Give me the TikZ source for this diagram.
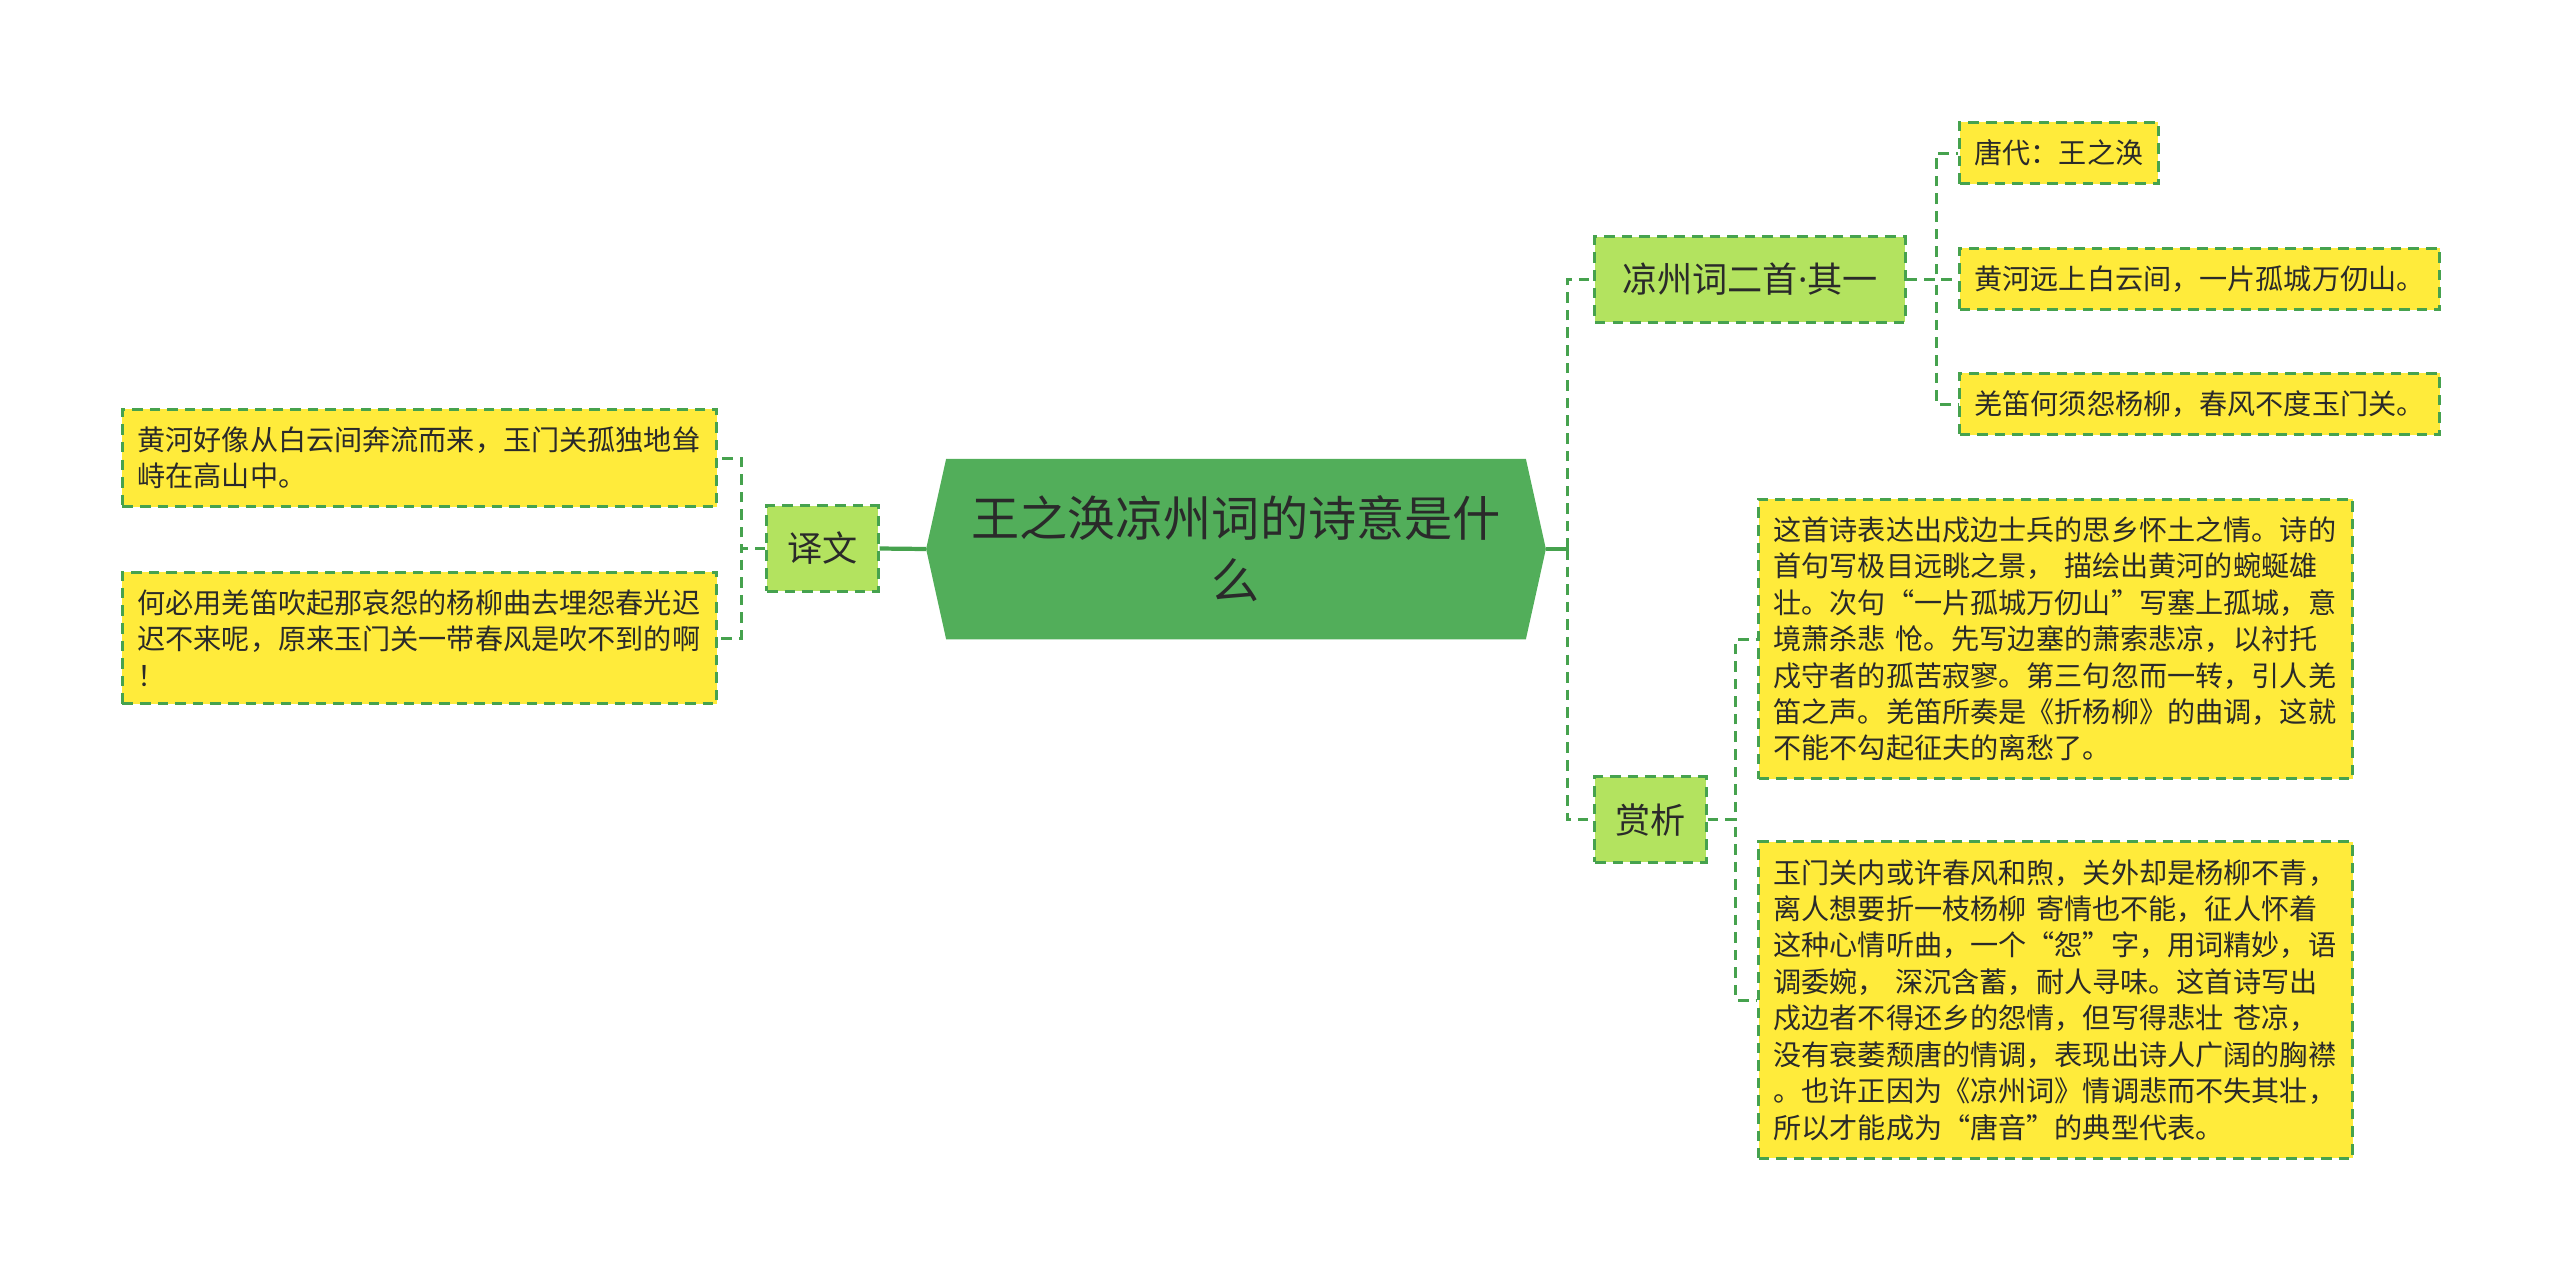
\documentclass[tikz,border=0pt]{standalone}
\usepackage{fontspec}
\setmainfont{Noto Sans CJK SC}
\newfontfamily\dotfont{Noto Sans}
\usepackage{xcolor}
\usetikzlibrary{arrows.meta,calc,backgrounds,positioning}

\definecolor{rootgreen}{HTML}{52AE5A}
\definecolor{subgreen}{HTML}{B3E35F}
\definecolor{leafyellow}{HTML}{FFEB3B}
\definecolor{edgegreen}{HTML}{46A24E}
\definecolor{inkgray}{HTML}{2A2A2A}

\begin{document}
\begin{tikzpicture}[x=0.01cm, y=-0.01cm,
  rootbox/.style={minimum width=6.18cm, minimum height=1.79cm, align=center,
    text=inkgray, font=\fontsize{13.7pt}{17.6pt}\selectfont},
  subbox/.style={draw=edgegreen, dash pattern=on 3pt off 2pt, line width=0.85pt,
    fill=subgreen, minimum height=0.85cm, minimum width=1.11cm, text=inkgray,
    font=\fontsize{10pt}{12pt}\selectfont},
  leafbox/.style={draw=edgegreen, dash pattern=on 3pt off 2pt, line width=0.85pt,
    fill=leafyellow, inner xsep=0.15cm, inner ysep=0.175cm, text=inkgray,
    align=left, font=\fontsize{8pt}{10.36pt}\selectfont},
  widebox/.style={leafbox, text width=5.64cm},
  link/.style={edgegreen, dash pattern=on 3pt off 2pt, line width=0.85pt},
  trunk/.style={edgegreen, line width=1.2pt}
]

\useasboundingbox (0,0) rectangle (2560,1281);

% =========================================================
% CENTRE: root topic (hexagon drawn behind the text)
% =========================================================
\node[rootbox] (root) at (1236,549) {王之涣凉州词的诗意是什\\么};
\begin{scope}[on background layer]
  \fill[rootgreen] (root.west) -- ([xshift=0.2cm]root.north west)
    -- ([xshift=-0.2cm]root.north east) -- (root.east)
    -- ([xshift=-0.2cm]root.south east) -- ([xshift=0.2cm]root.south west)
    -- cycle;
\end{scope}

% =========================================================
% LEFT: translation
% =========================================================
\node[subbox] (yiwen) at (822.5,548.5) {译文};

\node[widebox, anchor=west] (leftA) at (121,458)
  {黄河好像从白云间奔流而来，玉门关孤独地耸\\峙在高山中。};
\node[widebox, anchor=west] (leftB) at (121,638)
  {何必用羌笛吹起那哀怨的杨柳曲去埋怨春光迟\\迟不来呢，原来玉门关一带春风是吹不到的啊\\！};

\draw[trunk] (root.west) -- (yiwen.east);
\draw[link] (yiwen.west) -- ++(-24,0) |- (leftA.east);
\draw[link] (yiwen.west) -- ++(-24,0) |- (leftB.east);

% =========================================================
% RIGHT: poem text and appreciation
% =========================================================
\node[subbox, minimum width=3.1cm] (liangzhou) at (1750,279.5)
  {凉州词二首{\dotfont ·}其一};
\node[subbox] (shangxi) at (1650.5,819.5) {赏析};

\node[leafbox, anchor=west] (tang) at (1958,153) {唐代：王之涣};
\node[leafbox, anchor=west] (huanghe) at (1958,279) {黄河远上白云间，一片孤城万仞山。};
\node[leafbox, anchor=west] (qiangdi) at (1958,404) {羌笛何须怨杨柳，春风不度玉门关。};

\node[widebox, anchor=west] (sxA) at (1757,639)
  {这首诗表达出戍边士兵的思乡怀土之情。诗的\\
   首句写极目远眺之景， 描绘出黄河的蜿蜒雄\\
   壮。次句“一片孤城万仞山”写塞上孤城，意\\
   境萧杀悲 怆。先写边塞的萧索悲凉，以衬托\\
   戍守者的孤苦寂寥。第三句忽而一转，引人羌\\
   笛之声。羌笛所奏是《折杨柳》的曲调，这就\\
   不能不勾起征夫的离愁了。};
\node[widebox, anchor=west] (sxB) at (1757,1000)
  {玉门关内或许春风和煦，关外却是杨柳不青，\\
   离人想要折一枝杨柳 寄情也不能，征人怀着\\
   这种心情听曲，一个“怨”字，用词精妙，语\\
   调委婉， 深沉含蓄，耐人寻味。这首诗写出\\
   戍边者不得还乡的怨情，但写得悲壮 苍凉，\\
   没有衰萎颓唐的情调，表现出诗人广阔的胸襟\\
   。也许正因为《凉州词》情调悲而不失其壮，\\
   所以才能成为“唐音”的典型代表。};

\coordinate (rjoin) at (1567,549);
\draw[trunk] (root.east) -- (rjoin);
\draw[link] (rjoin) |- (liangzhou.west);
\draw[link] (rjoin) |- (shangxi.west);

\foreach \leaf in {tang, huanghe, qiangdi}
  \draw[link] (liangzhou.east) -- ++(30,0) |- (\leaf.west);
\foreach \leaf in {sxA, sxB}
  \draw[link] (shangxi.east) -- ++(28,0) |- (\leaf.west);

\end{tikzpicture}
\end{document}
